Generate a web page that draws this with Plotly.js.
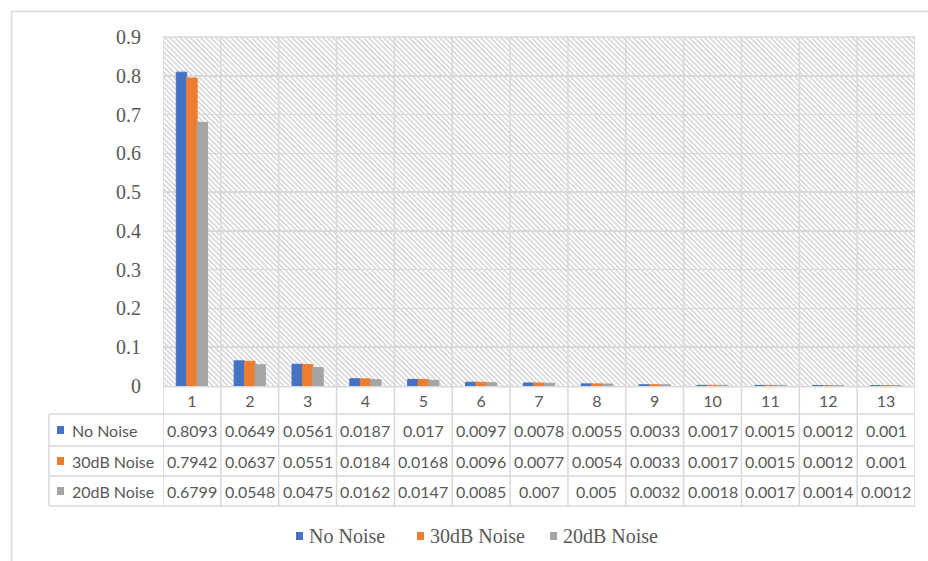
<!DOCTYPE html>
<html>
<head>
<meta charset="utf-8">
<script src="https://cdn.plot.ly/plotly-3.0.1.min.js"></script>
<style>
  html, body { margin: 0; padding: 0; background: #ffffff; }
  #chart { width: 928px; height: 561px; }
</style>
</head>
<body>
<div id="chart"></div>
<script>
// Bin labels along the x axis
var categories = ['1', '2', '3', '4', '5', '6', '7', '8', '9', '10', '11', '12', '13'];

// Series names and values
var seriesNames = ['No Noise', '30dB Noise', '20dB Noise'];
var noNoise   = [0.8093, 0.0649, 0.0561, 0.0187, 0.017, 0.0097, 0.0078, 0.0055, 0.0033, 0.0017, 0.0015, 0.0012, 0.001];
var noise30dB = [0.7942, 0.0637, 0.0551, 0.0184, 0.0168, 0.0096, 0.0077, 0.0054, 0.0033, 0.0017, 0.0015, 0.0012, 0.001];
var noise20dB = [0.6799, 0.0548, 0.0475, 0.0162, 0.0147, 0.0085, 0.007, 0.005, 0.0032, 0.0018, 0.0017, 0.0014, 0.0012];

var seriesValues = [noNoise, noise30dB, noise20dB];
var seriesColors = ['#4472C4', '#ED7D31', '#A5A5A5'];

// Plot-area geometry (pixels) and helpers to convert to paper coordinates
var W = 928, H = 561;
var M = { l: 163, r: 13, t: 37, b: 175, autoexpand: false };
var PW = W - M.l - M.r, PH = H - M.t - M.b;
function px(x) { return (x - M.l) / PW; }
function py(y) { return (H - M.b - y) / PH; }

var gridColor = '#D9D9D9';
var textColor = '#595959';
var tableFont = 'Lato, "Open Sans", sans-serif';
var serifFont = '"Liberation Serif", "DejaVu Serif", serif';

// Table row layout (pixel rows under the plot)
var rowLines = [414, 446, 476, 506];
var rowCenters = [430, 461, 491];

// Legend row under the table: left edge of each key square
var legendKeyX = [296, 417, 550];
var legendY = 536;

// Diagonal hatch for the plot background
var hatchSvg =
  '<svg xmlns="http://www.w3.org/2000/svg" width="' + PW + '" height="' + PH + '" viewBox="0 0 ' + PW + ' ' + PH + '">' +
  '<defs><pattern id="h" patternUnits="userSpaceOnUse" width="3.6" height="3.6" patternTransform="rotate(-45)">' +
  '<rect x="0" y="0" width="1.5" height="3.6" fill="#D4D4D4"/></pattern></defs>' +
  '<rect width="100%" height="100%" fill="#FFFFFF"/><rect width="100%" height="100%" fill="url(#h)"/></svg>';
var hatchUri = 'data:image/svg+xml;charset=utf-8,' + encodeURIComponent(hatchSvg);

// Thin same-colour outline keeps the tiniest bars visible as a sliver
var traces = seriesNames.map(function (name, i) {
  return {
    type: 'bar',
    name: name,
    x: categories,
    y: seriesValues[i],
    marker: { color: seriesColors[i], line: { color: seriesColors[i], width: 1 } },
    showlegend: false,
    hoverinfo: 'x+y+name'
  };
});

var shapes = [];
var annotations = [];
function hline(y, x0, x1) {
  shapes.push({ type: 'line', layer: 'below', xref: 'paper', yref: 'paper', x0: x0, x1: x1, y0: y, y1: y,
    line: { color: gridColor, width: 1.5 } });
}
function vline(x, y0, y1, xref) {
  shapes.push({ type: 'line', layer: 'below', xref: xref || 'paper', yref: 'paper', x0: x, x1: x, y0: y0, y1: y1,
    line: { color: gridColor, width: 1.5 } });
}

// Outer chart frame (runs off the right and bottom edges)
hline(py(11.5), px(11), px(960));
vline(px(11.5), py(11), py(600));

// Plot top and bottom borders
hline(1, 0, 1);
hline(py(H - M.b + 0.75), 0, 1);

// Vertical category boundaries through plot and table
for (var k = 0; k <= categories.length; k++) {
  vline(k - 0.5, py(rowLines[rowLines.length - 1]), 1, 'x');
}
// Horizontal table lines and the left edge of the series-label column
rowLines.forEach(function (y) { hline(py(y), px(49), 1); });
vline(px(49), py(rowLines[0]), py(rowLines[rowLines.length - 1]));

// Table rows: series key, name and values
seriesNames.forEach(function (name, i) {
  var yc = rowCenters[i];
  shapes.push({ type: 'rect', xref: 'paper', yref: 'paper', x0: px(57), x1: px(64), y0: py(yc - 4), y1: py(yc + 4),
    fillcolor: seriesColors[i], line: { width: 0 } });
  annotations.push({ xref: 'paper', yref: 'paper', x: px(70), y: py(yc), xanchor: 'left', yanchor: 'middle',
    text: name, showarrow: false, font: { family: tableFont, size: 16, color: textColor } });
  seriesValues[i].forEach(function (v, j) {
    annotations.push({ xref: 'x', yref: 'paper', x: j, y: py(yc), xanchor: 'center', yanchor: 'middle',
      text: String(v), showarrow: false, font: { family: tableFont, size: 16, color: textColor } });
  });
});

// Legend under the table
seriesNames.forEach(function (name, i) {
  var x0 = legendKeyX[i];
  shapes.push({ type: 'rect', xref: 'paper', yref: 'paper', x0: px(x0), x1: px(x0 + 7), y0: py(legendY - 4), y1: py(legendY + 4),
    fillcolor: seriesColors[i], line: { width: 0 } });
  annotations.push({ xref: 'paper', yref: 'paper', x: px(x0 + 11), y: py(legendY), xanchor: 'left', yanchor: 'middle',
    text: name, showarrow: false, font: { family: serifFont, size: 20, color: textColor } });
});

var layout = {
  width: W,
  height: H,
  margin: M,
  paper_bgcolor: '#FFFFFF',
  plot_bgcolor: 'rgba(0,0,0,0)',
  barmode: 'group',
  bargap: 0.46,
  bargroupgap: 0,
  showlegend: false,
  xaxis: {
    type: 'category',
    range: [-0.5, categories.length - 0.5],
    showgrid: false,
    zeroline: false,
    showline: false,
    ticks: 'outside',
    ticklen: 1,
    tickcolor: 'rgba(0,0,0,0)',
    tickfont: { family: tableFont, size: 16, color: textColor },
    fixedrange: true
  },
  yaxis: {
    range: [0, 0.9],
    dtick: 0.1,
    tick0: 0,
    showgrid: true,
    gridcolor: gridColor,
    gridwidth: 1.5,
    zeroline: false,
    showline: false,
    ticks: 'outside',
    ticklen: 17,
    tickcolor: 'rgba(0,0,0,0)',
    tickfont: { family: serifFont, size: 20, color: textColor },
    fixedrange: true
  },
  images: [{
    source: hatchUri,
    xref: 'paper', yref: 'paper',
    x: 0, y: 1, sizex: 1, sizey: 1,
    xanchor: 'left', yanchor: 'top',
    sizing: 'stretch',
    layer: 'below'
  }],
  shapes: shapes,
  annotations: annotations
};

Plotly.newPlot('chart', traces, layout, { displayModeBar: false, staticPlot: true });
</script>
</body>
</html>
